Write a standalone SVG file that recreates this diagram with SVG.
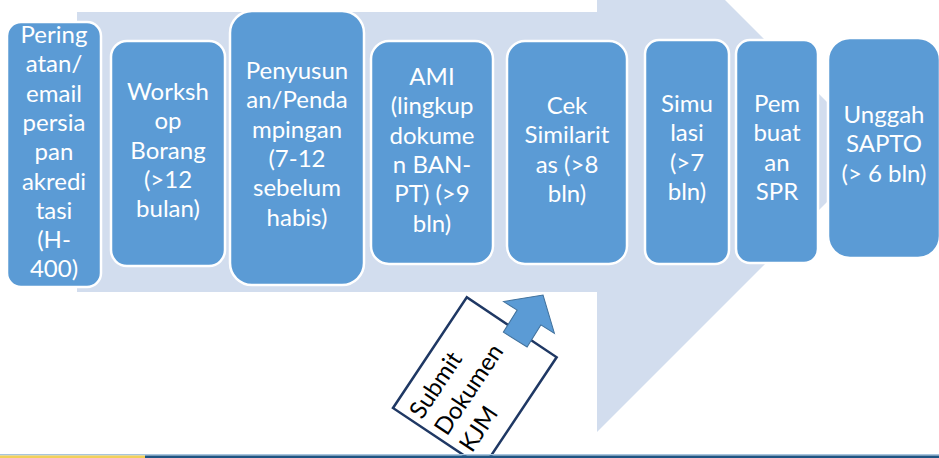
<svg xmlns="http://www.w3.org/2000/svg" width="939" height="458" viewBox="0 0 939 458">
<style>
.box{fill:#5B9BD5;stroke:#FFFFFF;stroke-width:2.5}
.t{font-family:Lato,"Liberation Sans",sans-serif;font-size:24px;fill:#FFFFFF;text-anchor:middle}
.k{font-family:Lato,"Liberation Sans",sans-serif;font-size:24px;fill:#000000}
</style>
<rect width="939" height="458" fill="#FFFFFF"/>
<g id="background-arrow">
<polygon points="77,12 597,12 597,-128 877,152 597,432 597,292 77,292" fill="#D2DDEE"/>
</g>
<g id="n1">
<rect class="box" x="7" y="22" width="94" height="265" rx="14"/>
<text class="t"><tspan x="54" y="43">Pering</tspan><tspan x="54" y="72.3">atan/</tspan><tspan x="54" y="101.6">email</tspan><tspan x="54" y="130.9">persia</tspan><tspan x="54" y="160.2">pan</tspan><tspan x="54" y="189.5">akredi</tspan><tspan x="54" y="218.8">tasi</tspan><tspan x="54" y="248.1">(H-</tspan><tspan x="54" y="277.4">400)</tspan></text>
</g>
<g id="n2">
<rect class="box" x="111" y="41" width="114" height="225" rx="16"/>
<text class="t"><tspan x="168" y="100">Worksh</tspan><tspan x="168" y="129.3">op</tspan><tspan x="168" y="158.6">Borang</tspan><tspan x="168" y="187.9">(&gt;12</tspan><tspan x="168" y="217.2">bulan)</tspan></text>
</g>
<g id="n3">
<rect class="box" x="230" y="11" width="134" height="274" rx="22"/>
<text class="t"><tspan x="297" y="79">Penyusun</tspan><tspan x="297" y="108.3">an/Penda</tspan><tspan x="297" y="137.6">mpingan</tspan><tspan x="297" y="166.9">(7-12</tspan><tspan x="297" y="196.2">sebelum</tspan><tspan x="297" y="225.5">habis)</tspan></text>
</g>
<g id="n4">
<rect class="box" x="371" y="41" width="122" height="223" rx="18"/>
<text class="t"><tspan x="432" y="85">AMI</tspan><tspan x="432" y="114.3">(lingkup</tspan><tspan x="432" y="143.6">dokume</tspan><tspan x="432" y="172.9">n BAN-</tspan><tspan x="432" y="202.2">PT) (&gt;9</tspan><tspan x="432" y="231.5">bln)</tspan></text>
</g>
<g id="n5">
<rect class="box" x="507" y="41" width="120" height="223" rx="18"/>
<text class="t"><tspan x="567" y="114">Cek</tspan><tspan x="567" y="143.3">Similarit</tspan><tspan x="567" y="172.6">as (&gt;8</tspan><tspan x="567" y="201.9">bln)</tspan></text>
</g>
<g id="n6">
<rect class="box" x="645" y="40" width="84" height="224" rx="14"/>
<text class="t"><tspan x="687" y="112">Simu</tspan><tspan x="687" y="141.3">lasi</tspan><tspan x="687" y="170.6">(&gt;7</tspan><tspan x="687" y="199.9">bln)</tspan></text>
</g>
<g id="n7">
<rect class="box" x="736" y="40" width="82" height="223" rx="14"/>
<text class="t"><tspan x="777" y="112">Pem</tspan><tspan x="777" y="141.3">buat</tspan><tspan x="777" y="170.6">an</tspan><tspan x="777" y="199.9">SPR</tspan></text>
</g>
<g id="n8">
<rect class="box" x="828" y="38" width="112" height="220" rx="22"/>
<text class="t"><tspan x="884" y="123">Unggah</tspan><tspan x="884" y="152.3">SAPTO</tspan><tspan x="884" y="181.6">(&gt; 6 bln)</tspan></text>
</g>
<g id="submit-doc">
<g transform="translate(393,408) rotate(-56.3)">
<rect x="0" y="0" width="133" height="108" fill="#FFFFFF" stroke="#1F3864" stroke-width="2.5"/>
<text class="k"><tspan x="6" y="31">Submit</tspan><tspan x="6" y="61">Dokumen</tspan><tspan x="6" y="91">KJM</tspan></text>
</g>
</g>
<g id="connectors">
<polygon transform="translate(529,317.5) rotate(-58)" points="-26,-14 0,-14 0,-30 26.5,0 0,30 0,14 -26,14" fill="#5B9BD5" stroke="#41719C" stroke-width="1"/>
</g>
<g id="footer">
<rect x="0" y="454" width="939" height="1.5" fill="#A8C5DE"/>
<rect x="0" y="455.5" width="145" height="2.5" fill="#F2D05A"/>
<rect x="145" y="455.5" width="794" height="2.5" fill="#1F5583"/>
</g>
</svg>
